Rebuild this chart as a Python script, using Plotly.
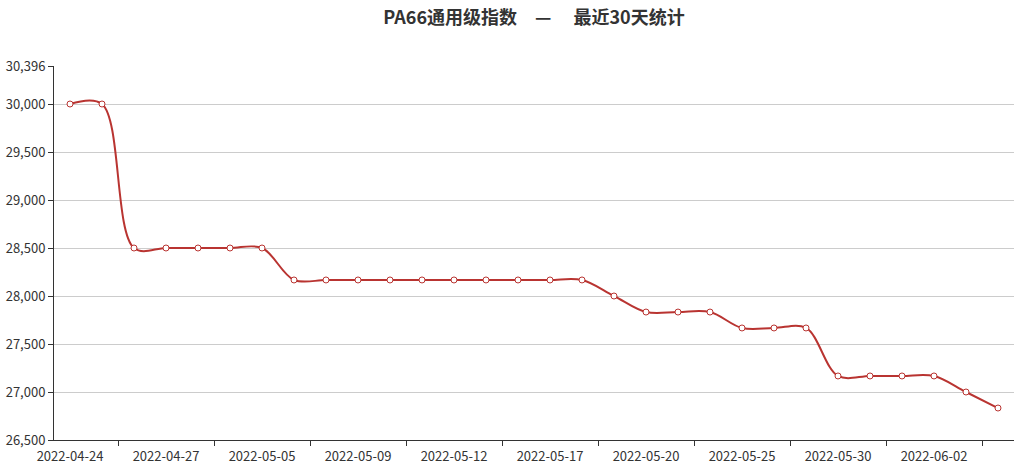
import plotly.graph_objects as go

dates = ["2022-04-24", "2022-04-25", "2022-04-26", "2022-04-27", "2022-04-28", "2022-04-29",
         "2022-05-05", "2022-05-06", "2022-05-07", "2022-05-09", "2022-05-10", "2022-05-11",
         "2022-05-12", "2022-05-13", "2022-05-16", "2022-05-17", "2022-05-18", "2022-05-19",
         "2022-05-20", "2022-05-23", "2022-05-24", "2022-05-25", "2022-05-26", "2022-05-27",
         "2022-05-30", "2022-05-31", "2022-06-01", "2022-06-02", "2022-06-06", "2022-06-07"]
values = [30000, 30000, 28500, 28500, 28500, 28500,
          28500, 28167, 28167, 28167, 28167, 28167,
          28167, 28167, 28167, 28167, 28167, 28000,
          27833, 27833, 27833, 27667, 27667, 27667,
          27167, 27167, 27167, 27167, 27000, 26833]
y_ticks = [26500, 27000, 27500, 28000, 28500, 29000, 29500, 30000, 30396]
title_text = "PA66通用级指数　—　 最近30天统计"

RED = "#b93431"
FONT = "Noto Sans CJK SC, Open Sans, sans-serif"

fig = go.Figure()
fig.add_trace(go.Scatter(
    x=dates, y=values, mode="lines+markers",
    line=dict(color=RED, width=2, shape="spline", smoothing=1.0),
    marker=dict(size=6, color="white", line=dict(color=RED, width=1)),
    showlegend=False, hoverinfo="x+y",
))
# invisible trace on second axis to carry boundary tick marks
fig.add_trace(go.Scatter(x=[0, len(dates) - 1], y=[values[0], values[-1]], xaxis="x2",
                         mode="markers", marker=dict(opacity=0), showlegend=False,
                         hoverinfo="skip"))

fig.update_layout(
    width=1022, height=471,
    margin=dict(l=54, r=8, t=66, b=31),
    paper_bgcolor="white", plot_bgcolor="white",
    font=dict(family=FONT, color="#333", size=13),
    title=dict(text="<b>" + title_text + "</b>", xref="container", x=0.5225, xanchor="center",
               yref="container", y=0.962, yanchor="middle",
               font=dict(size=18, color="#333", family=FONT)),
    xaxis=dict(type="category", range=[-0.5, len(dates) - 0.5], automargin=False,
               tickvals=dates[::3], ticktext=dates[::3],
               ticks="", showgrid=False, showline=True, linecolor="#333", linewidth=1,
               tickfont=dict(size=13, color="#333"), ticklabelstandoff=4),
    xaxis2=dict(overlaying="x", range=[-0.5, len(dates) - 0.5], automargin=False,
                tickvals=[i + 1.5 for i in range(0, len(dates) - 1, 3)],
                ticks="outside", ticklen=5, tickcolor="#333", showticklabels=False,
                showgrid=False, showline=False, zeroline=False, anchor="y", side="bottom"),
    yaxis=dict(range=[26500, 30396], tickvals=y_ticks, automargin=False,
               ticktext=[f"{v:,}" for v in y_ticks],
               showgrid=True, gridcolor="#ccc", gridwidth=1,
               showline=True, linecolor="#333", linewidth=1,
               ticks="outside", ticklen=5, tickcolor="#333", zeroline=False,
               tickfont=dict(size=13, color="#333")),
)

fig.write_html("out.html", config={"displayModeBar": False},
               post_script="document.body.style.margin='0';document.body.style.overflow='hidden';")
